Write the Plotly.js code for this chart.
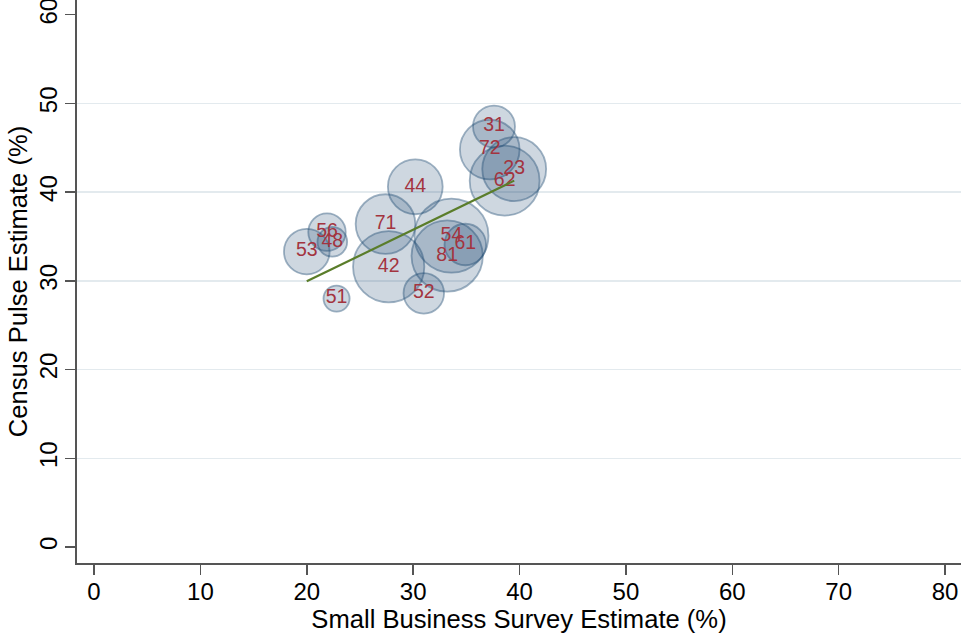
<!DOCTYPE html>
<html>
<head>
<meta charset="utf-8">
<script src="https://cdn.plot.ly/plotly-3.0.1.min.js"></script>
<style>
html,body{margin:0;padding:0;background:#fff;}
#chart{width:966px;height:639px;}
</style>
</head>
<body>
<div id="chart"></div>
<script>
// Industry (NAICS 2-digit) codes
const industries = ["31","72","23","62","44","71","42","54","81","61","52","51","53","56","48"];
// Small Business Survey estimate (%)
const sbsEstimate = [37.6, 37.2, 39.5, 38.6, 30.2, 27.4, 27.7, 33.6, 33.2, 34.9, 31.0, 22.8, 20.0, 21.9, 22.4];
// Census Pulse estimate (%)
const pulseEstimate = [47.4, 44.8, 42.6, 41.3, 40.6, 36.4, 31.6, 35.1, 32.8, 34.1, 28.6, 28.0, 33.3, 35.5, 34.4];
// Bubble weights (relative)
const weights = [44, 89, 102, 122, 75, 89, 127, 137, 127, 43, 41, 17, 52, 35, 22];
// Fitted line end points
const fitX = [20.0, 39.5];
const fitY = [29.95, 41.3];
// Tick values
const xTicks = [0, 10, 20, 30, 40, 50, 60, 70, 80];
const yTicks = [0, 10, 20, 30, 40, 50, 60];
const gridTicks = [10, 20, 30, 40, 50];

const FONT = "Liberation Sans, Arial, Helvetica, sans-serif";
const axisCol = "#555555";

const traces = [
  {
    type: "scatter",
    mode: "markers+text",
    x: sbsEstimate,
    y: pulseEstimate,
    text: industries,
    textposition: "middle center",
    textfont: {family: FONT, size: 19.5, color: "#a3343f"},
    marker: {
      size: weights,
      sizemode: "area",
      sizeref: 0.05,
      color: "rgba(26,71,111,0.30)",
      line: {color: "rgba(26,71,111,0.60)", width: 1.8}
    },
    showlegend: false,
    hoverinfo: "x+y+text"
  },
  {
    type: "scatter",
    mode: "lines",
    x: fitX,
    y: fitY,
    line: {color: "#5a7d2a", width: 2.2},
    showlegend: false,
    hoverinfo: "skip"
  },
  {
    type: "scatter",
    x: [], y: [],
    yaxis: "y2",
    showlegend: false,
    hoverinfo: "skip"
  }
];

const layout = {
  width: 966,
  height: 639,
  margin: {l: 77, r: 5, t: 0, b: 76},
  paper_bgcolor: "#ffffff",
  plot_bgcolor: "#ffffff",
  font: {family: FONT, color: "#000000"},
  showlegend: false,
  xaxis: {
    range: [-1.6, 81.5],
    tickvals: xTicks,
    ticktext: xTicks.map(String),
    ticks: "outside",
    ticklen: 10,
    tickwidth: 1.5,
    tickcolor: axisCol,
    ticklabelstandoff: -3,
    ticklabeloverflow: "allow",
    showline: true,
    linecolor: axisCol,
    linewidth: 1.6,
    showgrid: false,
    zeroline: false,
    tickfont: {family: FONT, size: 24, color: "#000"},
    title: {text: "Small Business Survey Estimate (%)", font: {family: FONT, size: 25.6, color: "#000"}, standoff: 1}
  },
  yaxis: {
    range: [-1.8, 61.66],
    tickvals: yTicks,
    ticktext: yTicks.map(String),
    ticks: "outside",
    ticklen: 10,
    tickwidth: 1.5,
    tickcolor: axisCol,
    tickangle: -90,
    ticklabelstandoff: -1,
    ticklabeloverflow: "allow",
    showline: true,
    linecolor: axisCol,
    linewidth: 1.6,
    showgrid: false,
    zeroline: false,
    tickfont: {family: FONT, size: 24, color: "#000"},
    title: {text: "Census Pulse Estimate (%)", font: {family: FONT, size: 25.6, color: "#000"}, standoff: 0}
  },
  yaxis2: {
    overlaying: "y",
    anchor: "x",
    side: "left",
    range: [-1.8, 61.66],
    tickvals: gridTicks,
    showticklabels: false,
    ticks: "",
    showline: false,
    zeroline: false,
    showgrid: true,
    gridcolor: "#e3eaee",
    gridwidth: 1.6
  }
};

Plotly.newPlot("chart", traces, layout, {displayModeBar: false, staticPlot: true});
</script>
</body>
</html>
